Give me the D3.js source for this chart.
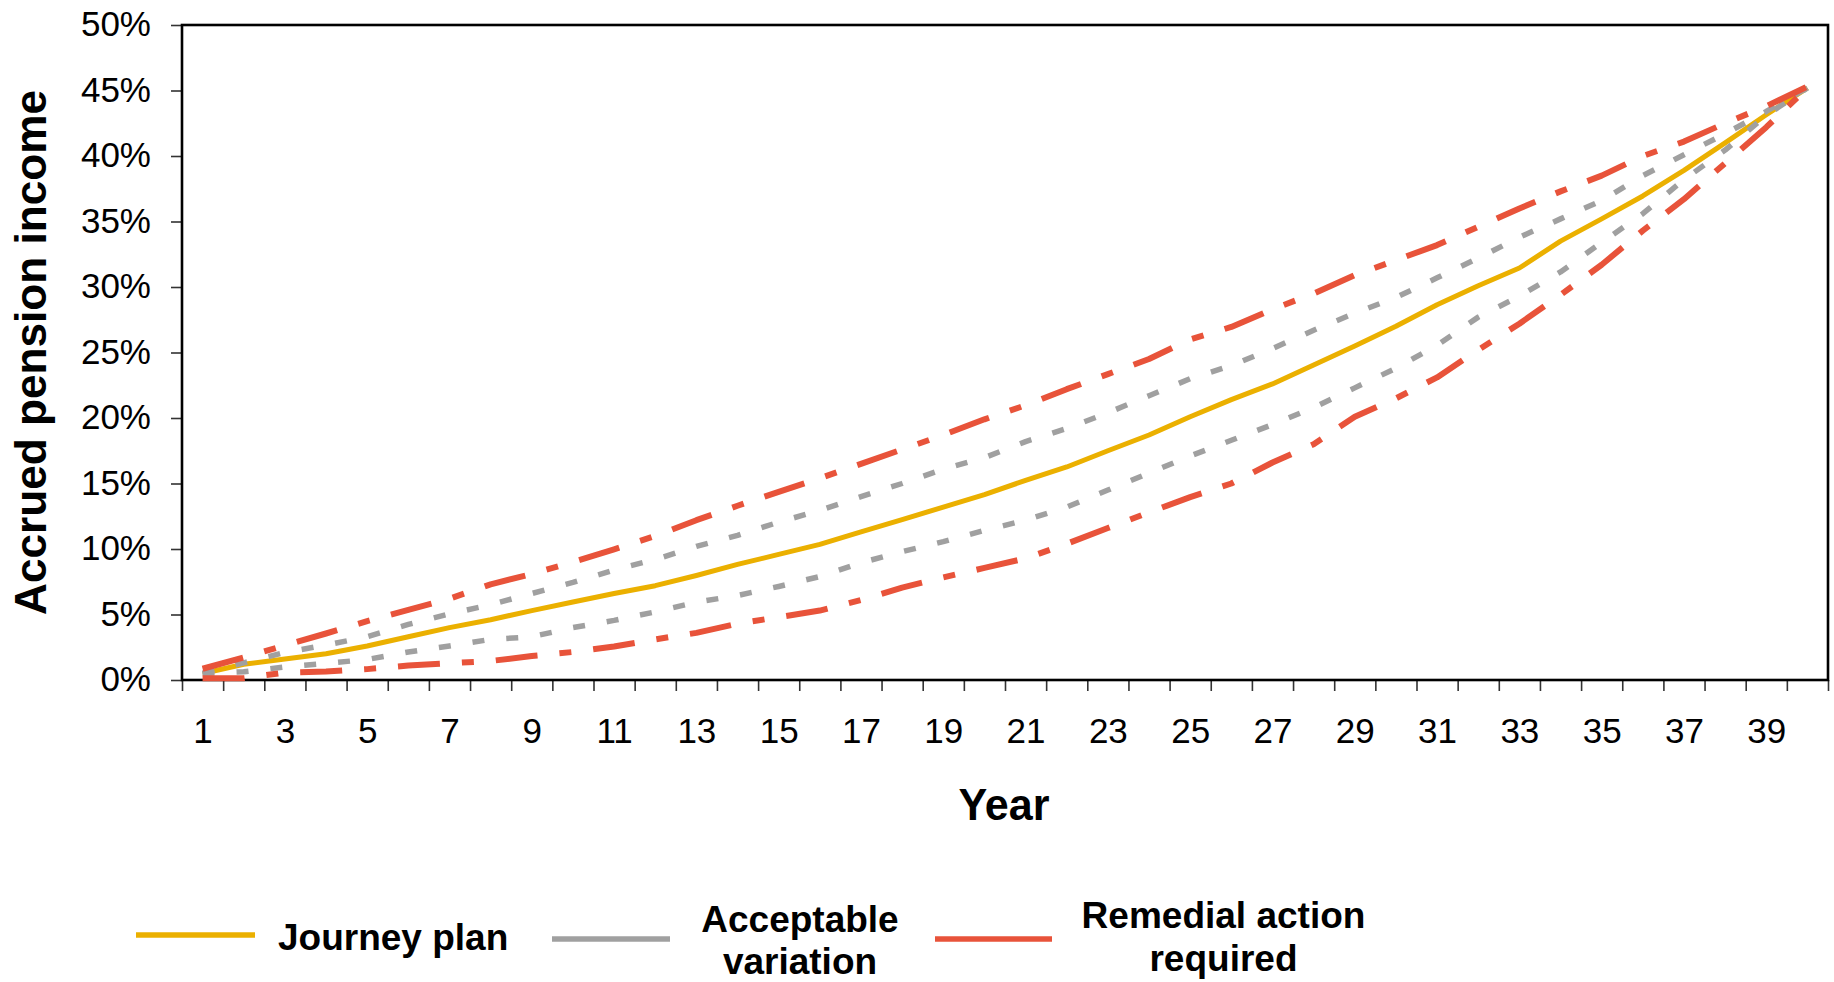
<!DOCTYPE html>
<html>
<head>
<meta charset="utf-8">
<script src="https://cdn.jsdelivr.net/npm/d3@7"></script>
<style>
  html, body { margin: 0; padding: 0; background: #ffffff; }
  svg { display: block; }
  text { font-family: "Liberation Sans", Arial, sans-serif; fill: #000; }
</style>
</head>
<body>
<svg id="chart" width="1834" height="982"></svg>
<script>
// Years along the x axis
const years = d3.range(1, 41);
const yearLabels = d3.range(1, 40, 2);
const yTicks = [0, 5, 10, 15, 20, 25, 30, 35, 40, 45, 50];

// Accrued pension income (% of target) per year
const journeyPlan = [0.5, 1.2, 1.6, 2.0, 2.6, 3.3, 4.0, 4.6, 5.3, 5.95, 6.6, 7.2, 7.98, 8.82, 9.59, 10.35, 11.3, 12.24, 13.2, 14.15,
  15.24, 16.26, 17.5, 18.7, 20.1, 21.4, 22.6, 24.05, 25.5, 27.0, 28.65, 30.1, 31.45, 33.5, 35.2, 36.95, 38.9, 41.0, 43.15, 45.2];
const acceptableUpper = [0.5, 1.31, 2.1, 2.67, 3.3, 4.24, 5.05, 5.75, 6.6, 7.45, 8.4, 9.2, 10.2, 11.04, 12.05, 12.95, 14.0, 15.0, 16.1, 16.97,
  18.2, 19.2, 20.4, 21.7, 23.0, 24.0, 25.3, 26.7, 28.0, 29.2, 30.7, 32.2, 33.8, 35.2, 36.6, 38.5, 40.1, 41.7, 43.4, 45.2];
const acceptableLower = [0.5, 0.63, 1.0, 1.26, 1.57, 2.14, 2.6, 3.1, 3.3, 4.0, 4.55, 5.2, 5.94, 6.45, 7.14, 7.9, 8.95, 9.8, 10.56, 11.42,
  12.2, 13.2, 14.5, 15.8, 17.1, 18.3, 19.5, 20.8, 22.3, 23.8, 25.55, 27.7, 29.3, 31.15, 33.4, 35.6, 38.2, 40.45, 43.1, 45.2];
const remedialUpper = [0.86, 1.72, 2.64, 3.55, 4.5, 5.35, 6.2, 7.3, 8.1, 9.0, 9.97, 11.0, 12.2, 13.3, 14.36, 15.4, 16.5, 17.6, 18.7, 19.9,
  20.97, 22.2, 23.35, 24.5, 26.0, 26.95, 28.3, 29.5, 30.9, 32.05, 33.2, 34.6, 36.0, 37.3, 38.5, 40.0, 41.1, 42.5, 43.8, 45.3];
const remedialLower = [0.14, 0.14, 0.57, 0.65, 0.83, 1.1, 1.28, 1.45, 1.83, 2.14, 2.56, 3.1, 3.6, 4.3, 4.8, 5.3, 6.1, 7.05, 7.83, 8.56,
  9.28, 10.4, 11.6, 12.8, 13.96, 15.0, 16.6, 18.0, 20.1, 21.5, 23.1, 25.2, 27.2, 29.4, 31.7, 34.3, 36.7, 39.45, 42.2, 45.2];

const colors = { journey: "#ebb000", acceptable: "#a0a0a0", remedial: "#e8533a" };

const svg = d3.select("#chart");
const plot = { left: 182, right: 1828, top: 25, bottom: 680 };

const x = d3.scaleLinear().domain([0.5, 40.5]).range([plot.left, plot.right]);
const y = d3.scaleLinear().domain([0, 50]).range([plot.bottom, plot.top]);

// Y axis with percentage labels
const yAxis = svg.append("g")
  .attr("transform", `translate(${plot.left},0)`)
  .call(d3.axisLeft(y).tickValues(yTicks).tickSize(11).tickPadding(20).tickFormat(d => d + "%"));
yAxis.select(".domain").remove();
yAxis.selectAll(".tick line").attr("stroke", "#333").attr("stroke-width", 1.6);
yAxis.selectAll(".tick text").style("font-size", "35px").attr("dy", "0.3em").attr("font-family", null);

// X axis: tick marks on category boundaries
const boundaries = d3.range(0.5, 41, 1);
const xTicks = svg.append("g")
  .attr("transform", `translate(0,${plot.bottom})`)
  .call(d3.axisBottom(x).tickValues(boundaries).tickSize(11).tickFormat(""));
xTicks.select(".domain").remove();
xTicks.selectAll(".tick line").attr("stroke", "#333").attr("stroke-width", 1.6);

// X axis labels on every other year
const xLabels = svg.append("g")
  .attr("transform", `translate(0,${plot.bottom})`)
  .call(d3.axisBottom(x).tickValues(yearLabels).tickSize(0).tickPadding(38).tickFormat(d3.format("d")));
xLabels.select(".domain").remove();
xLabels.selectAll(".tick text").style("font-size", "35px").attr("font-family", null);

// Plot frame
svg.append("rect")
  .attr("x", plot.left).attr("y", plot.top)
  .attr("width", plot.right - plot.left).attr("height", plot.bottom - plot.top)
  .attr("fill", "none").attr("stroke", "#000").attr("stroke-width", 2.6);

// Series lines
const line = d3.line().x((d, i) => x(years[i])).y(d => y(d));
const series = [
  { data: journeyPlan, color: colors.journey, width: 5, dash: null },
  { data: acceptableUpper, color: colors.acceptable, width: 5.5, dash: "12,22" },
  { data: acceptableLower, color: colors.acceptable, width: 5.5, dash: "12,22" },
  { data: remedialUpper, color: colors.remedial, width: 6, dash: "42,22,12,22" },
  { data: remedialLower, color: colors.remedial, width: 6, dash: "42,22,12,22" }
];
svg.append("g").selectAll("path")
  .data(series)
  .join("path")
  .attr("d", s => line(s.data))
  .attr("fill", "none")
  .attr("stroke", s => s.color)
  .attr("stroke-width", s => s.width)
  .attr("stroke-dasharray", s => s.dash)
  .attr("stroke-linejoin", "round")
  .attr("stroke-linecap", "butt");

// Axis titles
svg.append("text")
  .attr("transform", `translate(46,${(plot.top + plot.bottom) / 2}) rotate(-90)`)
  .attr("text-anchor", "middle")
  .attr("textLength", 525).attr("lengthAdjust", "spacingAndGlyphs")
  .style("font-size", "44px").style("font-weight", "bold")
  .text("Accrued pension income");

svg.append("text")
  .attr("x", 1004).attr("y", 820)
  .attr("text-anchor", "middle")
  .attr("textLength", 91).attr("lengthAdjust", "spacingAndGlyphs")
  .style("font-size", "44px").style("font-weight", "bold")
  .text("Year");

// Legend
const legendItems = [
  { lines: ["Journey plan"], color: colors.journey, x1: 136, x2: 255, ly: 935, tx: 278, anchor: "start", baselines: [950] },
  { lines: ["Acceptable", "variation"], color: colors.acceptable, x1: 552, x2: 670, ly: 939, tx: 800, anchor: "middle", baselines: [932, 974] },
  { lines: ["Remedial action", "required"], color: colors.remedial, x1: 935, x2: 1052, ly: 939, tx: 1223.5, anchor: "middle", baselines: [928, 971] }
];
const legend = svg.append("g");
legendItems.forEach(item => {
  legend.append("line")
    .attr("x1", item.x1).attr("x2", item.x2)
    .attr("y1", item.ly).attr("y2", item.ly)
    .attr("stroke", item.color).attr("stroke-width", 5.5);
  item.lines.forEach((t, i) => {
    legend.append("text")
      .attr("x", item.tx).attr("y", item.baselines[i])
      .attr("text-anchor", item.anchor)
      .style("font-size", "37px").style("font-weight", "bold")
      .text(t);
  });
});
</script>
</body>
</html>
